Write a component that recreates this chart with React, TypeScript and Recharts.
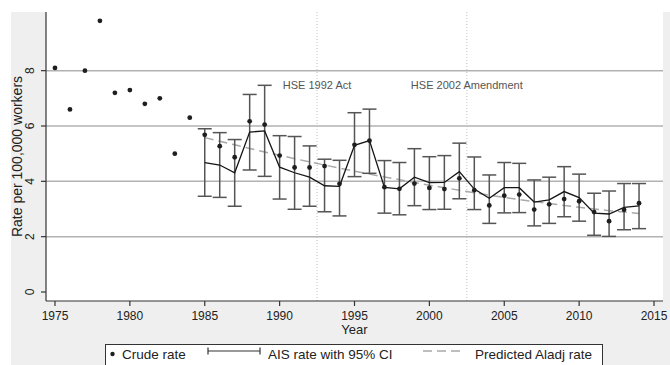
import React from 'react';
import { ComposedChart, Line, Scatter, XAxis, YAxis, ErrorBar, ReferenceLine, CartesianGrid } from 'recharts';

const years = [
    1975, 1976, 1977, 1978, 1979, 1980, 1981, 1982, 1983, 1984,
    1985, 1986, 1987, 1988, 1989, 1990, 1991, 1992, 1993, 1994,
    1995, 1996, 1997, 1998, 1999, 2000, 2001, 2002, 2003, 2004,
    2005, 2006, 2007, 2008, 2009, 2010, 2011, 2012, 2013, 2014,
];

const crudeRate = [
    8.1, 6.6, 8.0, 9.8, 7.2, 7.3, 6.8, 7.0, 5.0, 6.3,
    5.68, 5.27, 4.87, 6.17, 6.05, 4.93, 4.5, 4.5, 4.55, 3.91,
    5.32, 5.47, 3.79, 3.73, 3.92, 3.76, 3.72, 4.11, 3.68, 3.13,
    3.48, 3.52, 2.98, 3.17, 3.36, 3.28, 2.89, 2.56, 2.97, 3.21,
];

// AIS series starts in 1985
const AIS_START = 1985;

const aisRate = [
    4.68, 4.59, 4.31, 5.78, 5.82, 4.51, 4.31, 4.15, 3.84, 3.82,
    5.3, 5.47, 3.78, 3.73, 4.15, 3.95, 3.96, 4.35, 3.72, 3.39,
    3.77, 3.77, 3.25, 3.33, 3.63, 3.41, 2.85, 2.82, 3.06, 3.11,
];

const aisLower = [
    3.46, 3.42, 3.1, 4.41, 4.18, 3.36, 2.99, 3.1, 2.9, 2.75,
    4.17, 4.29, 2.85, 2.79, 3.12, 2.98, 2.99, 3.37, 2.98, 2.48,
    2.86, 2.87, 2.39, 2.48, 2.72, 2.56, 2.05, 2.01, 2.25, 2.29,
];

const aisUpper = [
    5.9, 5.76, 5.51, 7.14, 7.47, 5.65, 5.62, 5.28, 4.8, 4.76,
    6.48, 6.61, 4.75, 4.68, 5.18, 4.89, 4.93, 5.38, 4.88, 4.23,
    4.68, 4.65, 4.05, 4.15, 4.53, 4.26, 3.57, 3.65, 3.92, 3.92,
];

const predictedRate = [
    5.58, 5.45, 5.32, 5.19, 5.06, 4.94, 4.82, 4.7, 4.59, 4.48,
    4.37, 4.26, 4.16, 4.06, 3.96, 3.86, 3.77, 3.68, 3.59, 3.5,
    3.42, 3.34, 3.27, 3.2, 3.13, 3.06, 3.0, 2.94, 2.89, 2.84,
];

const xTicks = [1975, 1980, 1985, 1990, 1995, 2000, 2005, 2010, 2015];
const yTicks = [0, 2, 4, 6, 8];
const gridValues = [2, 4, 6, 8];
const events = [
    { year: 1992.5, label: 'HSE 1992 Act' },
    { year: 2002.5, label: 'HSE 2002 Amendment' },
];

const FONT = '"Liberation Sans", Arial, sans-serif';
const AXIS = '#333';

const data = years.map((year, i) => {
    const j = year - AIS_START;
    const has = j >= 0;
    return {
        year,
        crude: crudeRate[i],
        ais: has ? aisRate[j] : null,
        ci: has ? [aisRate[j] - aisLower[j], aisUpper[j] - aisRate[j]] : null,
        predicted: has ? predictedRate[j] : null,
    };
});

const YTick = (props: any) => {
    const { x, y, payload } = props;
    const cx = x - 9;
    return (
        <text
            x={cx}
            y={y}
            transform={`rotate(-90, ${cx}, ${y})`}
            textAnchor="middle"
            dominantBaseline="central"
            fontSize={12}
            fontFamily={FONT}
            fill="#222"
        >
            {payload.value}
        </text>
    );
};

const Dot = (props: any) => <circle cx={props.cx} cy={props.cy} r={2.4} fill="#1e1e1e" />;

export default function App() {
    return (
        <div style={{ position: 'absolute', left: 0, top: 0, width: 670, height: 365, background: '#fff' }}>
            <div style={{ position: 'absolute', left: 11, top: 12, width: 659, height: 353, background: '#efefef' }} />
            <div style={{ position: 'absolute', left: 0, top: 0 }}>
                <ComposedChart width={670} height={365} data={data} margin={{ top: 12, right: 7, bottom: 0, left: 11 }}>
                    <CartesianGrid fill="#fff" horizontal={false} vertical={false} />
                    <XAxis
                        dataKey="year"
                        type="number"
                        domain={[1974.4, 2015.6]}
                        ticks={xTicks}
                        height={64}
                        tickSize={5}
                        tickMargin={5}
                        interval={0}
                        axisLine={{ stroke: AXIS, strokeWidth: 1.2 }}
                        tickLine={{ stroke: AXIS, strokeWidth: 1.2 }}
                        tick={{ fill: '#222', fontSize: 12, fontFamily: FONT }}
                        label={{
                            content: (p: any) => (
                                <text
                                    x={p.viewBox.x + p.viewBox.width / 2}
                                    y={p.viewBox.y + 28}
                                    textAnchor="middle"
                                    dominantBaseline="central"
                                    fontSize={13}
                                    fontFamily={FONT}
                                    fill="#222"
                                >
                                    Year
                                </text>
                            ),
                        }}
                    />
                    <YAxis
                        type="number"
                        domain={[-0.325, 10.12]}
                        ticks={yTicks}
                        width={35}
                        tickSize={5}
                        interval={0}
                        allowDataOverflow
                        axisLine={{ stroke: AXIS, strokeWidth: 1.2 }}
                        tickLine={{ stroke: AXIS, strokeWidth: 1.2 }}
                        tick={<YTick />}
                        label={{
                            content: (p: any) => {
                                const lx = p.viewBox.x + 6;
                                const ly = p.viewBox.y + p.viewBox.height / 2;
                                return (
                                    <text
                                        x={lx}
                                        y={ly}
                                        transform={`rotate(-90, ${lx}, ${ly})`}
                                        textAnchor="middle"
                                        dominantBaseline="central"
                                        fontSize={14}
                                        fontFamily={FONT}
                                        fill="#222"
                                    >
                                        Rate per 100,000 workers
                                    </text>
                                );
                            },
                        }}
                    />
                    {gridValues.map((v) => (
                        <ReferenceLine key={`g-${v}`} y={v} stroke="#b2b2b2" strokeWidth={1.5} />
                    ))}
                    {events.map((e) => (
                        <ReferenceLine
                            key={e.label}
                            x={e.year}
                            stroke="#c2c2c2"
                            strokeDasharray="1 2"
                            label={{
                                content: (p: any) => (
                                    <text
                                        x={p.viewBox.x}
                                        y={p.viewBox.y + 73}
                                        textAnchor="middle"
                                        dominantBaseline="central"
                                        fontSize={11}
                                        fontFamily={FONT}
                                        fill="#555"
                                    >
                                        {e.label}
                                    </text>
                                ),
                            }}
                        />
                    ))}
                    <Line
                        dataKey="predicted"
                        stroke="#a9a9a9"
                        strokeWidth={1.5}
                        strokeDasharray="9 5"
                        dot={false}
                        activeDot={false}
                        isAnimationActive={false}
                    />
                    <Line
                        dataKey="ais"
                        stroke="#151515"
                        strokeWidth={1.3}
                        dot={false}
                        activeDot={false}
                        isAnimationActive={false}
                    >
                        <ErrorBar dataKey="ci" direction="y" width={7} stroke="#555" strokeWidth={1.5} isAnimationActive={false} />
                    </Line>
                    <Scatter dataKey="crude" shape={<Dot />} isAnimationActive={false} />
                </ComposedChart>
            </div>
            <svg width={670} height={365} style={{ position: 'absolute', left: 0, top: 0, pointerEvents: 'none' }}>
                <rect x={105.5} y={344.5} width={497} height={30} fill="#fff" stroke="#333" strokeWidth={1} />
                <g fontFamily={FONT} fontSize={13.5} fill="#222">
                    <circle cx={112.5} cy={354} r={2.2} fill="#1e1e1e" />
                    <text x={122} y={358.5}>Crude rate</text>
                    <line x1={208} y1={351} x2={260} y2={351} stroke="#333" strokeWidth={1.2} />
                    <line x1={208} y1={347.5} x2={208} y2={354.5} stroke="#333" strokeWidth={1.2} />
                    <line x1={260} y1={347.5} x2={260} y2={354.5} stroke="#333" strokeWidth={1.2} />
                    <text x={268} y={358.5}>AIS rate with 95% CI</text>
                    <line x1={423} y1={351} x2={465} y2={351} stroke="#a9a9a9" strokeWidth={1.5} strokeDasharray="9 5" />
                    <text x={475} y={358.5}>Predicted Aladj rate</text>
                </g>
            </svg>
        </div>
    );
}
